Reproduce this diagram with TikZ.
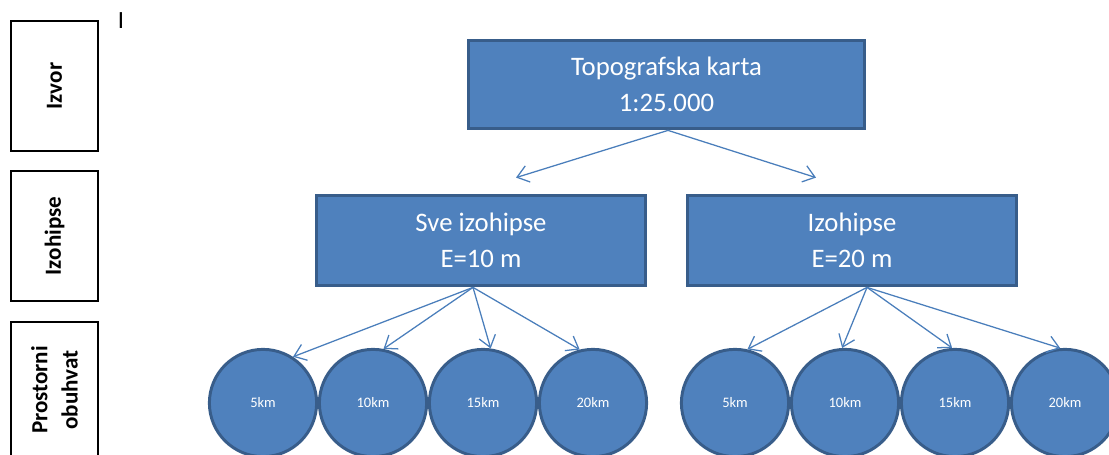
\documentclass[tikz,border=0pt]{standalone}
\usepackage{fontspec}
\setmainfont{Carlito}
\usepackage{xcolor}
\usetikzlibrary{arrows.meta}

\definecolor{plava}{HTML}{4F81BD}
\definecolor{tamnoplava}{HTML}{385D8A}
\definecolor{strelice}{HTML}{4A7EBB}

\tikzset{
  razina/.style={draw=black, line width=1.4pt, rotate=90, align=center,
    minimum width=3.25cm, minimum height=2.18cm, inner sep=0pt,
    font=\bfseries\fontsize{16.4}{21.5}\selectfont},
  kutija/.style={draw=tamnoplava, fill=plava, line width=2.1pt, text=white,
    align=center, inner sep=0pt, font=\fontsize{19}{26}\selectfont},
  krug/.style={circle, draw=tamnoplava, fill=plava, line width=2.1pt, text=white,
    minimum size=2.68cm, inner sep=0pt, font=\fontsize{10.3}{12}\selectfont},
  strelica/.style={draw=strelice, line width=0.9pt,
    -{Straight Barb[length=8pt,width=12pt]}}
}

\begin{document}
\begin{tikzpicture}[x=0.025cm, y=0.025cm]
  \useasboundingbox (0,0) rectangle (1109,454);

  % razine lijevo
  \node[razina] (izvor) at (54.5,368) {Izvor};
  \node[razina] (izoh) at (54.5,218) {Izohipse};
  \node[razina, minimum width=3.4cm] (obuhvat) at (54.5,64) {Prostorni\\obuhvat};
  \node[font=\fontsize{17.6}{20}\selectfont] (kursor) at (121,433) {I};

  % karte i izohipse
  \node[kutija, minimum width=9.9cm, minimum height=2.22cm] (karta) at (666.5,369.5)
    {Topografska karta\\1:25.000};
  \node[kutija, minimum width=8.24cm, minimum height=2.27cm] (sve) at (481,213.5)
    {Sve izohipse\\E=10 m};
  \node[kutija, minimum width=8.24cm, minimum height=2.27cm] (dvadeset) at (852,213.5)
    {Izohipse\\E=20 m};

  % prostorni obuhvat
  \foreach \x/\ime/\t in {263/k1/5km, 373/k2/10km, 483/k3/15km, 593/k4/20km,
                          735/k5/5km, 845/k6/10km, 955/k7/15km, 1065/k8/20km}
    \node[krug] (\ime) at (\x,51) {\t};

  % strelice
  \coordinate (lijevo) at ([shift={(35,16)}]sve.north);
  \coordinate (desno) at ([shift={(-36,16)}]dvadeset.north);
  \draw[strelica] ([shift={(1.5,0)}]karta.south) -- (lijevo);
  \draw[strelica] ([shift={(1.5,0)}]karta.south) -- (desno);

  \draw[strelica] ([shift={(-8,0)}]sve.south) -- (k1.57);
  \draw[strelica] ([shift={(-8,0)}]sve.south) -- (k2.79);
  \draw[strelica] ([shift={(-8,0)}]sve.south) -- (k3.82);
  \draw[strelica] ([shift={(-8,0)}]sve.south) -- (k4.104);

  \draw[strelica] ([shift={(15,0)}]dvadeset.south) -- (k5.77);
  \draw[strelica] ([shift={(15,0)}]dvadeset.south) -- (k6.93);
  \draw[strelica] ([shift={(15,0)}]dvadeset.south) -- (k7.93);
  \draw[strelica] ([shift={(15,0)}]dvadeset.south) -- (k8.95);
\end{tikzpicture}
\end{document}
